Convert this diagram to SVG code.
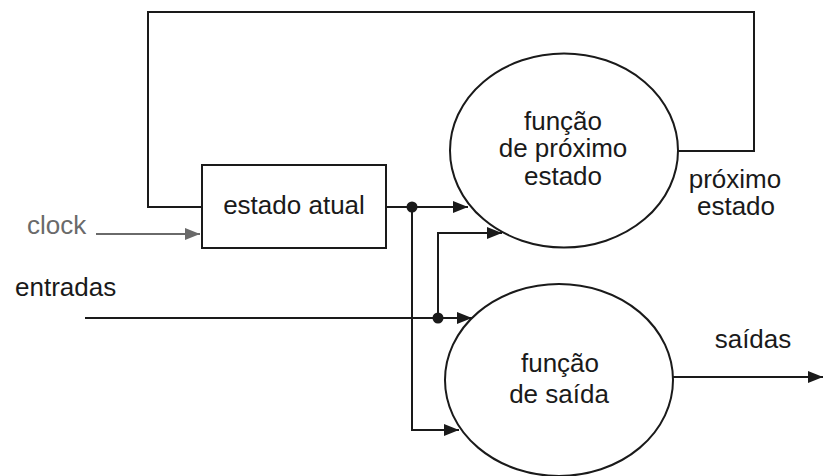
<svg xmlns="http://www.w3.org/2000/svg" width="824" height="476" viewBox="0 0 824 476">
<style>
text{font-family:"Liberation Sans",Arial,sans-serif;font-size:26px;fill:#1a1a1a}
.ln{fill:none;stroke:#1a1a1a;stroke-width:2}
.nd{fill:#fff;stroke:#1a1a1a;stroke-width:2}
.gray{fill:#6a6a6a}
.glin{fill:none;stroke:#6a6a6a;stroke-width:2}
</style>
<defs>
<marker id="ah" markerWidth="16" markerHeight="12" refX="15" refY="6" orient="auto" markerUnits="userSpaceOnUse"><path d="M0,0 L15,6 L0,12 Z" fill="#1a1a1a"/></marker>
<marker id="ahg" markerWidth="16" markerHeight="12" refX="15" refY="6" orient="auto" markerUnits="userSpaceOnUse"><path d="M0,0 L15,6 L0,12 Z" fill="#6a6a6a"/></marker>
</defs>
<rect width="824" height="476" fill="#fff"/>
<g id="connectors">
<polyline class="ln" points="678,151 754,151 754,12 148,12 148,207 202,207"/>
<line class="glin" x1="96" y1="234" x2="200" y2="234" marker-end="url(#ahg)"/>
<line class="ln" x1="386" y1="207" x2="468" y2="207" marker-end="url(#ah)"/>
<polyline class="ln" points="412,207 412,430 459,430" marker-end="url(#ah)"/>
<line class="ln" x1="85" y1="318" x2="472" y2="318" marker-end="url(#ah)"/>
<polyline class="ln" points="438,318 438,233 502,233" marker-end="url(#ah)"/>
<line class="ln" x1="673" y1="377" x2="823" y2="377" marker-end="url(#ah)"/>
<circle cx="412" cy="207" r="5.5" fill="#1a1a1a"/>
<circle cx="438" cy="318" r="5.5" fill="#1a1a1a"/>
</g>
<g id="estado-atual">
<rect class="nd" x="202" y="165" width="184" height="83"/>
<text x="294" y="214" text-anchor="middle">estado atual</text>
</g>
<g id="funcao-proximo-estado">
<ellipse class="nd" cx="564" cy="150.5" rx="114" ry="97"/>
<text x="563" y="130" text-anchor="middle">função</text>
<text x="563" y="157" text-anchor="middle">de próximo</text>
<text x="563" y="185" text-anchor="middle">estado</text>
</g>
<g id="funcao-saida">
<ellipse class="nd" cx="559" cy="380" rx="114" ry="96"/>
<text x="560" y="372" text-anchor="middle">função</text>
<text x="559" y="403" text-anchor="middle">de saída</text>
</g>
<g id="labels">
<text class="gray" x="27" y="234">clock</text>
<text x="15" y="296">entradas</text>
<text x="735" y="188" text-anchor="middle">próximo</text>
<text x="736" y="215" text-anchor="middle">estado</text>
<text x="753" y="348" text-anchor="middle">saídas</text>
</g>
</svg>
